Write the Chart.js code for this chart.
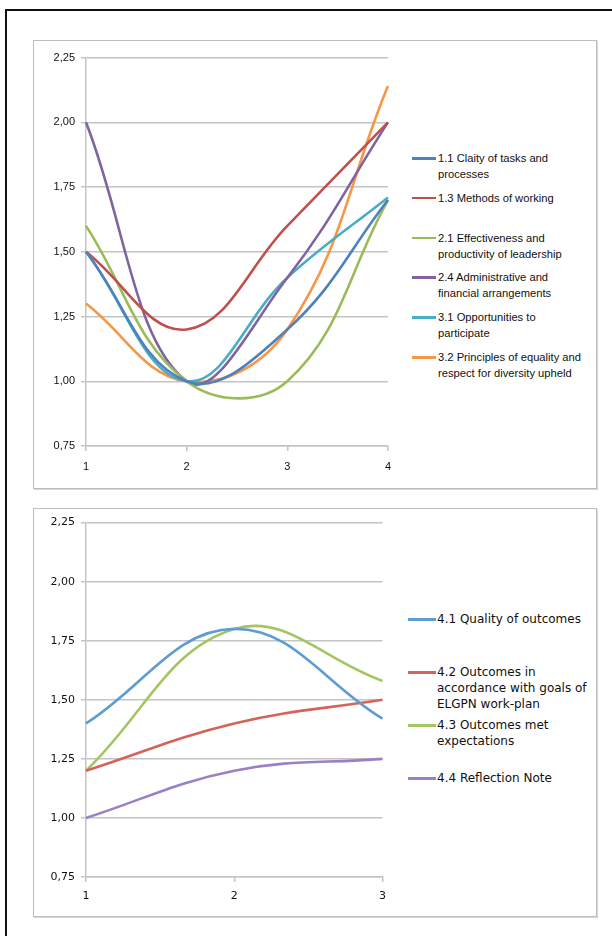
<!DOCTYPE html>
<html>
<head>
<meta charset="utf-8">
<script src="https://cdn.jsdelivr.net/npm/chart.js@4.4.1/dist/chart.umd.min.js"></script>
<style>
  html, body { margin: 0; padding: 0; background: #fff; }
  body { width: 612px; height: 936px; position: relative; overflow: hidden; }
  #frame { position: absolute; left: 5px; top: 9px; width: 700px; height: 1000px;
           border-left: 2px solid #111; border-top: 2px solid #111; }
  .box { position: absolute; left: 33px; width: 562px; border: 1px solid #bdbdbd;
         box-shadow: 1px 1px 0 #d6d6d6; background: #fff; }
  .cw { position: absolute; }
  .leg { position: absolute; }
  .item { position: absolute; white-space: nowrap; color: #111; }
  .item .sw { position: absolute; height: 2.5px; }
  .item .tx { position: absolute; }
  #leg1 .item { font-family: "Liberation Sans", Arial, sans-serif; font-size: 11.2px; line-height: 16px; }
  #leg2 .item { font-family: "DejaVu Sans", sans-serif; font-size: 12px; line-height: 16px; }
</style>
</head>
<body>
<div id="frame"></div>
<div class="box" style="top:40px;height:447px;"></div>
<div class="box" style="top:508px;height:407px;"></div>
<div class="cw" style="left:36px;top:45px;width:364px;height:431px;"><canvas id="c1"></canvas></div>
<div class="cw" style="left:36px;top:510px;width:358px;height:399px;"><canvas id="c2"></canvas></div>
<div id="leg1" class="leg"></div>
<div id="leg2" class="leg"></div>
<script>
// ---------- data ----------
const categories1 = ['1', '2', '3', '4'];
const categories2 = ['1', '2', '3'];
const yTickLabels = ['0,75', '1,00', '1,25', '1,50', '1,75', '2,00', '2,25'];

const labels1 = [
  ['1.1 Claity of tasks and', 'processes'],
  ['1.3 Methods of working'],
  ['2.1 Effectiveness and', 'productivity of leadership'],
  ['2.4 Administrative and', 'financial arrangements'],
  ['3.1 Opportunities to', 'participate'],
  ['3.2 Principles of equality and', 'respect for diversity upheld']
];
const s11 = [1.5, 1.0, 1.2, 1.7];
const s13 = [1.5, 1.2, 1.6, 2.0];
const s21 = [1.6, 1.0, 1.0, 1.7];
const s24 = [2.0, 1.0, 1.4, 2.0];
const s31 = [1.5, 1.0, 1.4, 1.71];
const s32 = [1.3, 1.0, 1.2, 2.14];

const labels2 = [
  ['4.1 Quality of outcomes'],
  ['4.2 Outcomes in', 'accordance with goals of', 'ELGPN work-plan'],
  ['4.3 Outcomes met', 'expectations'],
  ['4.4 Reflection Note']
];
const s41 = [1.4, 1.8, 1.42];
const s42 = [1.2, 1.4, 1.5];
const s43 = [1.2, 1.8, 1.58];
const s44 = [1.0, 1.2, 1.25];

// ---------- styles ----------
const colors1 = ['#4F81BD', '#C0504D', '#9BBB59', '#8064A2', '#4BACC6', '#F79646'];
const colors2 = ['#5E9CD3', '#D5625B', '#A5C563', '#9A80C4'];
const gridColor = '#c4c4c4';

function makeChart(id, cats, series, labels, colors, opts) {
  const datasets = series.map((d, i) => ({
    label: labels[i].join(' '),
    data: d,
    borderColor: colors[i],
    backgroundColor: colors[i],
    borderWidth: 2.6,
    pointRadius: 0,
    tension: 0.4,
    fill: false
  }));
  return new Chart(document.getElementById(id), {
    type: 'line',
    data: { labels: cats, datasets },
    options: {
      responsive: true,
      maintainAspectRatio: false,
      animation: false,
      events: [],
      layout: { padding: { left: 0, top: opts.padTop, right: 10, bottom: 0 } },
      plugins: { legend: { display: false }, tooltip: { enabled: false } },
      scales: {
        x: {
          type: 'category',
          offset: false,
          grid: { drawOnChartArea: false, drawTicks: true, tickLength: 5, color: gridColor, lineWidth: 1.5 },
          border: { display: true, color: gridColor, width: 1.5 },
          ticks: { color: '#111', font: opts.font, padding: opts.xPad, maxRotation: 0, autoSkip: false },
          afterFit: (s) => { s.height = opts.xH; }
        },
        y: {
          min: 0.75, max: 2.25,
          ticks: {
            stepSize: 0.25, color: '#111', font: opts.font, padding: 6,
            callback: (v, i) => yTickLabels[i]
          },
          grid: { color: gridColor, lineWidth: 1.5, tickLength: 5, drawTicks: true },
          border: { display: true, color: gridColor, width: 1.5 },
          afterFit: (s) => { s.width = 50; }
        }
      }
    }
  });
}

makeChart('c1', categories1, [s11, s13, s21, s24, s31, s32], labels1, colors1,
  { padTop: 10, xH: 30, xPad: 9, font: { family: 'Liberation Sans', size: 11 } });
makeChart('c2', categories2, [s41, s42, s43, s44], labels2, colors2,
  { padTop: 12, xH: 32, xPad: 8, font: { family: 'DejaVu Sans', size: 11 } });

// ---------- legends (HTML text) ----------
function buildLegend(elId, labels, colors, cfg) {
  const el = document.getElementById(elId);
  labels.forEach((lines, i) => {
    const it = document.createElement('div');
    it.className = 'item';
    it.style.left = cfg.x + 'px';
    it.style.top = (cfg.y0 + i * cfg.dy - 8) + 'px';
    const sw = document.createElement('div');
    sw.className = 'sw';
    sw.style.left = '0px';
    sw.style.width = cfg.swW + 'px';
    sw.style.top = '7px';
    sw.style.background = colors[i];
    const tx = document.createElement('div');
    tx.className = 'tx';
    tx.style.left = cfg.txX + 'px';
    tx.style.top = '0px';
    tx.innerHTML = lines.join('<br>');
    it.appendChild(sw);
    it.appendChild(tx);
    el.appendChild(it);
  });
}
buildLegend('leg1', labels1, colors1, { x: 412, y0: 158, dy: 39.8, swW: 24, txX: 26 });
buildLegend('leg2', labels2, colors2, { x: 408, y0: 619, dy: 53, swW: 28, txX: 29 });
</script>
</body>
</html>
